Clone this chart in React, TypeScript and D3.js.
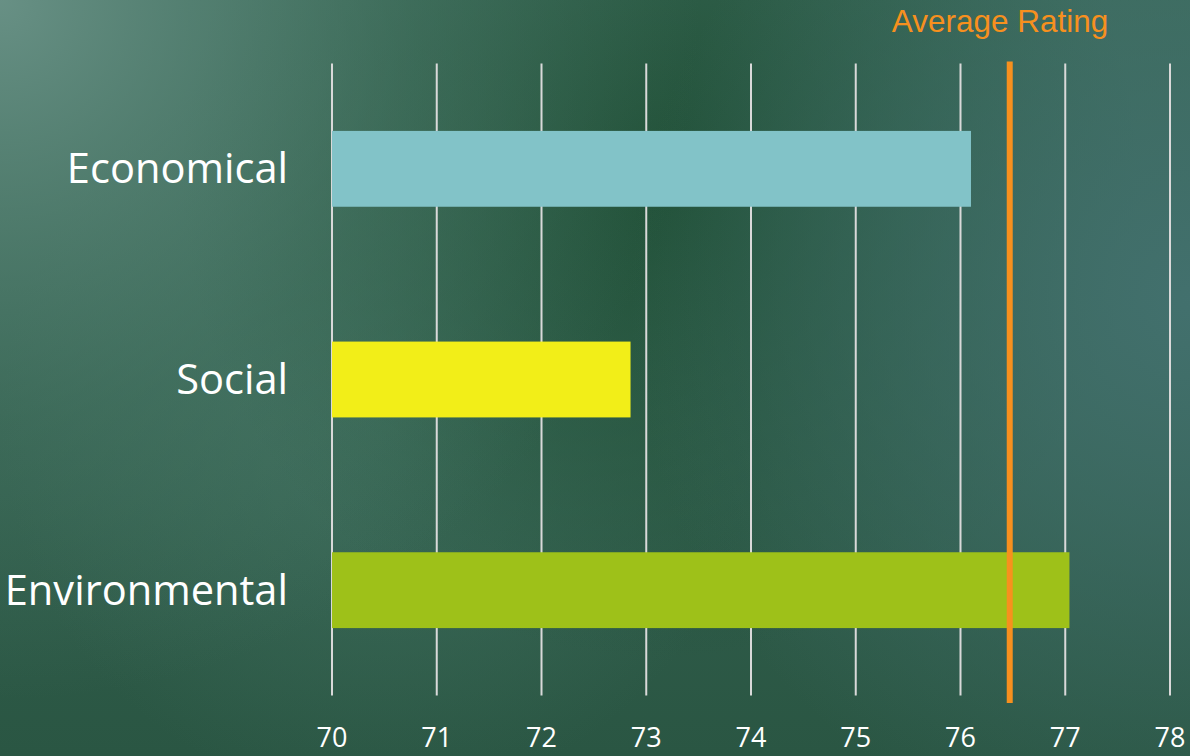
import React from "react";
import * as d3 from "d3";

const categories = ["Economical", "Social", "Environmental"];
const values = [76.1, 72.85, 77.04];
const barColors = ["#82C3C8", "#F2EE18", "#9EC119"];
const averageRating = 76.47;
const ticks = [70, 71, 72, 73, 74, 75, 76, 77, 78];
const averageLabel = "Average Rating";

const W = 1190;
const H = 756;

export default function App() {
  const x = d3.scaleLinear().domain([70, 78]).range([332, 1170]);
  const y = d3
    .scaleBand<string>()
    .domain(categories)
    .range([63.5, 695.5])
    .paddingInner(0.64)
    .paddingOuter(0.32);

  return (
    <svg
      width={W}
      height={H}
      style={{ position: "fixed", left: 0, top: 0, display: "block" }}
    >
      <defs>
        <linearGradient id="bgBase" x1="0" y1="0" x2="0" y2="1">
          <stop offset="0" stopColor="#3B6A59" />
          <stop offset="1" stopColor="#2A5643" />
        </linearGradient>
        <radialGradient id="glowTL" cx="0" cy="0" r="700" gradientUnits="userSpaceOnUse">
          <stop offset="0" stopColor="#6A9287" stopOpacity="0.95" />
          <stop offset="0.6" stopColor="#4E7C6C" stopOpacity="0.4" />
          <stop offset="1" stopColor="#4E7C6C" stopOpacity="0" />
        </radialGradient>
        <radialGradient id="darkC" cx="660" cy="180" r="480" gradientUnits="userSpaceOnUse">
          <stop offset="0" stopColor="#1F4F35" stopOpacity="0.9" />
          <stop offset="1" stopColor="#1F4F35" stopOpacity="0" />
        </radialGradient>
        <radialGradient id="tealR" cx="1190" cy="300" r="560" gradientUnits="userSpaceOnUse">
          <stop offset="0" stopColor="#43716F" stopOpacity="0.95" />
          <stop offset="1" stopColor="#43716F" stopOpacity="0" />
        </radialGradient>
        <radialGradient id="midLight" cx="380" cy="420" r="380" gradientUnits="userSpaceOnUse">
          <stop offset="0" stopColor="#467666" stopOpacity="0.6" />
          <stop offset="1" stopColor="#467666" stopOpacity="0" />
        </radialGradient>
      </defs>
      <rect x={0} y={0} width={W} height={H} fill="url(#bgBase)" />
      <rect x={0} y={0} width={W} height={H} fill="url(#midLight)" />
      <rect x={0} y={0} width={W} height={H} fill="url(#darkC)" />
      <rect x={0} y={0} width={W} height={H} fill="url(#tealR)" />
      <rect x={0} y={0} width={W} height={H} fill="url(#glowTL)" />

      {ticks.map((t) => (
        <line
          key={"g" + t}
          x1={x(t)}
          x2={x(t)}
          y1={63.5}
          y2={695.5}
          stroke="#D9D9D9"
          strokeWidth={2}
        />
      ))}

      {categories.map((c, i) => (
        <rect
          key={"b" + c}
          x={x(70)}
          y={y(c)}
          width={x(values[i]) - x(70)}
          height={y.bandwidth()}
          fill={barColors[i]}
        />
      ))}

      <line
        x1={x(averageRating)}
        x2={x(averageRating)}
        y1={61.5}
        y2={703}
        stroke="#F7901E"
        strokeWidth={6}
      />

      {categories.map((c) => (
        <text
          key={"l" + c}
          x={288}
          y={(y(c) as number) + y.bandwidth() / 2 + 14.5}
          textAnchor="end"
          fontFamily="'Open Sans', sans-serif"
          fontSize={41.6}
          fill="#FFFFFF"
        >
          {c}
        </text>
      ))}

      {ticks.map((t) => (
        <text
          key={"t" + t}
          x={x(t)}
          y={747}
          textAnchor="middle"
          fontFamily="'Open Sans', sans-serif"
          fontSize={27}
          fill="#FFFFFF"
        >
          {t}
        </text>
      ))}

      <text
        x={1000}
        y={32}
        textAnchor="middle"
        fontFamily="'Liberation Sans', Arial, sans-serif"
        fontSize={31.5}
        fill="#F7901E"
      >
        {averageLabel}
      </text>
    </svg>
  );
}
